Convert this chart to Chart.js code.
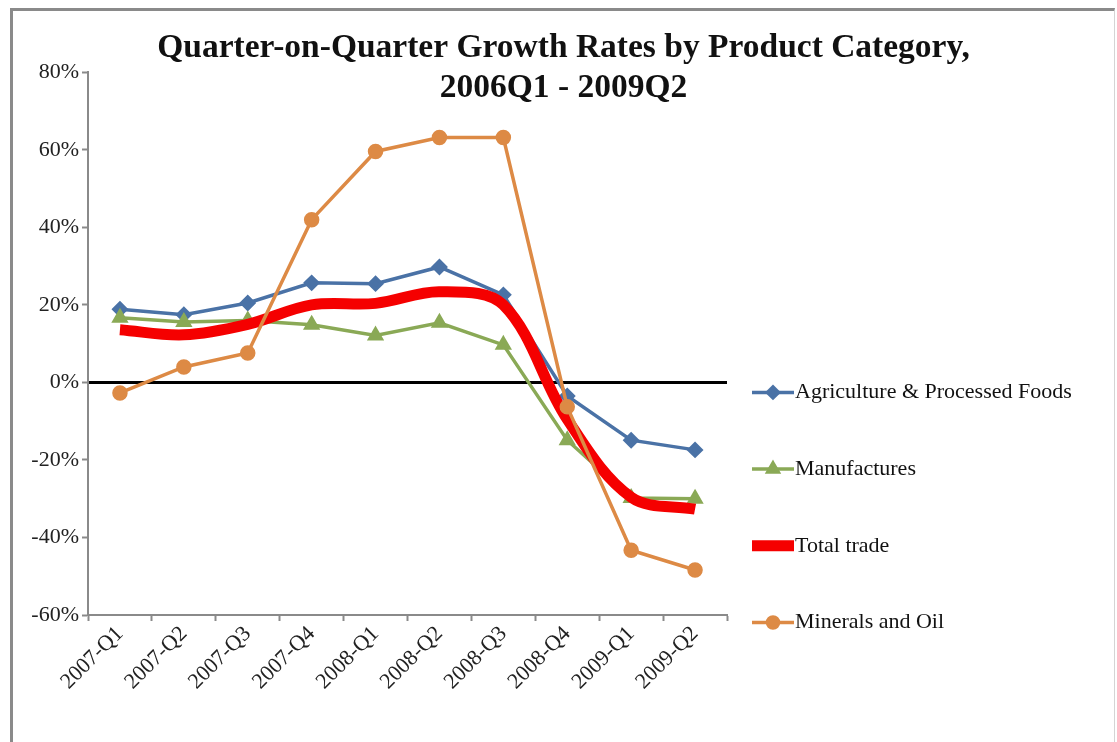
<!DOCTYPE html>
<html lang="en">

<head>
    <meta charset="UTF-8">
    <title>Quarter-on-Quarter Growth Rates</title>
    <script src="https://cdn.jsdelivr.net/npm/chart.js"></script>
</head>

<body style="margin: 0; background: white; overflow: hidden;">
    <div style="position: absolute; left: 10px; top: 8px; width: 1101px; height: 734px;
        border-left: 3px solid #8a8a8a; border-top: 3px solid #8a8a8a; border-right: 1px solid #d4d4d4;">
        <canvas id="growthChart"></canvas>
    </div>

    <script>
        const categories = ['2007-Q1', '2007-Q2', '2007-Q3', '2007-Q4', '2008-Q1',
            '2008-Q2', '2008-Q3', '2008-Q4', '2009-Q1', '2009-Q2'];
        const agriculture = [18.9, 17.5, 20.5, 25.7, 25.5, 29.8, 22.6, -3.5, -14.9, -17.4];
        const manufactures = [16.7, 15.6, 16.0, 14.9, 12.1, 15.4, 9.7, -14.9, -29.8, -30.0];
        const totalTrade = [13.6, 12.3, 15.0, 20.0, 20.4, 23.4, 20.0, -9.5, -29.6, -32.7];
        const minerals = [-2.7, 4.0, 7.6, 42.0, 59.6, 63.2, 63.2, -6.3, -43.3, -48.4];
        const yTicks = [-60, -40, -20, 0, 20, 40, 60, 80];

        const serif = 'Liberation Serif, Times New Roman, serif';

        // legend drawn at the right of the plot, line + marker like the original
        const sideLegend = {
            id: 'sideLegend',
            afterDraw(chart) {
                const ctx = chart.ctx;
                const area = chart.chartArea;
                const x0 = area.right + 25;
                let y = area.top + 320;
                chart.data.datasets.forEach(ds => {
                    ctx.save();
                    ctx.strokeStyle = ds.borderColor;
                    ctx.fillStyle = ds.borderColor;
                    ctx.lineWidth = ds.borderWidth;
                    ctx.beginPath();
                    ctx.moveTo(x0, y);
                    ctx.lineTo(x0 + 42, y);
                    ctx.stroke();
                    if (ds.pointRadius > 0) {
                        Chart.helpers.drawPoint(ctx, {
                            pointStyle: ds.pointStyle,
                            radius: ds.pointRadius - 0.5,
                            borderWidth: 1,
                            rotation: 0
                        }, x0 + 21, y);
                    }
                    ctx.fillStyle = '#111';
                    ctx.font = '22px ' + serif;
                    ctx.textBaseline = 'middle';
                    ctx.fillText(ds.label, x0 + 43, y);
                    ctx.restore();
                    y += 76.7;
                });
            }
        };

        const ctx = document.getElementById('growthChart').getContext('2d');
        const growthChart = new Chart(ctx, {
            type: 'line',
            data: {
                labels: categories,
                datasets: [{
                    label: 'Agriculture & Processed Foods',
                    data: agriculture,
                    borderColor: '#4a72a6',
                    backgroundColor: '#4a72a6',
                    borderWidth: 3.5,
                    pointStyle: 'rectRot',
                    pointRadius: 6,
                    tension: 0,
                    order: 3
                }, {
                    label: 'Manufactures',
                    data: manufactures,
                    borderColor: '#8aa956',
                    backgroundColor: '#8aa956',
                    borderWidth: 3.5,
                    pointStyle: 'triangle',
                    pointRadius: 6.5,
                    tension: 0,
                    order: 2
                }, {
                    label: 'Total trade',
                    data: totalTrade,
                    borderColor: '#f50000',
                    backgroundColor: '#f50000',
                    borderWidth: 11,
                    pointRadius: 0,
                    tension: 0.35,
                    order: 1
                }, {
                    label: 'Minerals and Oil',
                    data: minerals,
                    borderColor: '#dd8a45',
                    backgroundColor: '#dd8a45',
                    borderWidth: 3.5,
                    pointStyle: 'circle',
                    pointRadius: 6,
                    tension: 0,
                    order: 0
                }]
            },
            plugins: [sideLegend],
            options: {
                responsive: true,
                maintainAspectRatio: false,
                animation: false,
                layout: {
                    padding: 0
                },
                scales: {
                    x: {
                        offset: true,
                        afterFit: scale => { scale.height = 130; },
                        grid: {
                            offset: true,
                            color: 'transparent',
                            tickColor: '#8a8a8a',
                            tickLength: 6,
                            tickWidth: 2
                        },
                        border: { color: '#8a8a8a', width: 2 },
                        ticks: {
                            minRotation: 45,
                            maxRotation: 45,
                            padding: 0,
                            color: '#222',
                            font: { family: serif, size: 22 }
                        }
                    },
                    y: {
                        min: -60,
                        max: 80,
                        z: 1,
                        afterFit: scale => { scale.width = 75; },
                        afterBuildTicks: scale => {
                            scale.ticks = yTicks.map(v => ({ value: v }));
                        },
                        grid: {
                            color: c => c.tick && c.tick.value === 0 ? '#000' : 'transparent',
                            lineWidth: c => c.tick && c.tick.value === 0 ? 3 : 1,
                            tickColor: '#8a8a8a',
                            tickLength: 6,
                            tickWidth: 2
                        },
                        border: { color: '#8a8a8a', width: 2 },
                        ticks: {
                            padding: 3,
                            color: '#222',
                            font: { family: serif, size: 22 },
                            callback: v => v + '%'
                        }
                    },
                    // empty right-hand axis that keeps room for the legend
                    legendSpace: {
                        position: 'right',
                        afterFit: scale => { scale.width = 387; },
                        grid: { display: false },
                        border: { display: false },
                        ticks: { display: false }
                    }
                },
                plugins: {
                    legend: { display: false },
                    tooltip: { enabled: false },
                    title: {
                        display: true,
                        text: ['Quarter-on-Quarter Growth Rates by Product Category,', '2006Q1 - 2009Q2'],
                        color: '#111',
                        font: { family: serif, size: 33.5, weight: 'bold', lineHeight: 1.2 },
                        padding: { top: 17, bottom: -36 }
                    }
                }
            }
        });
    </script>
</body>

</html>
